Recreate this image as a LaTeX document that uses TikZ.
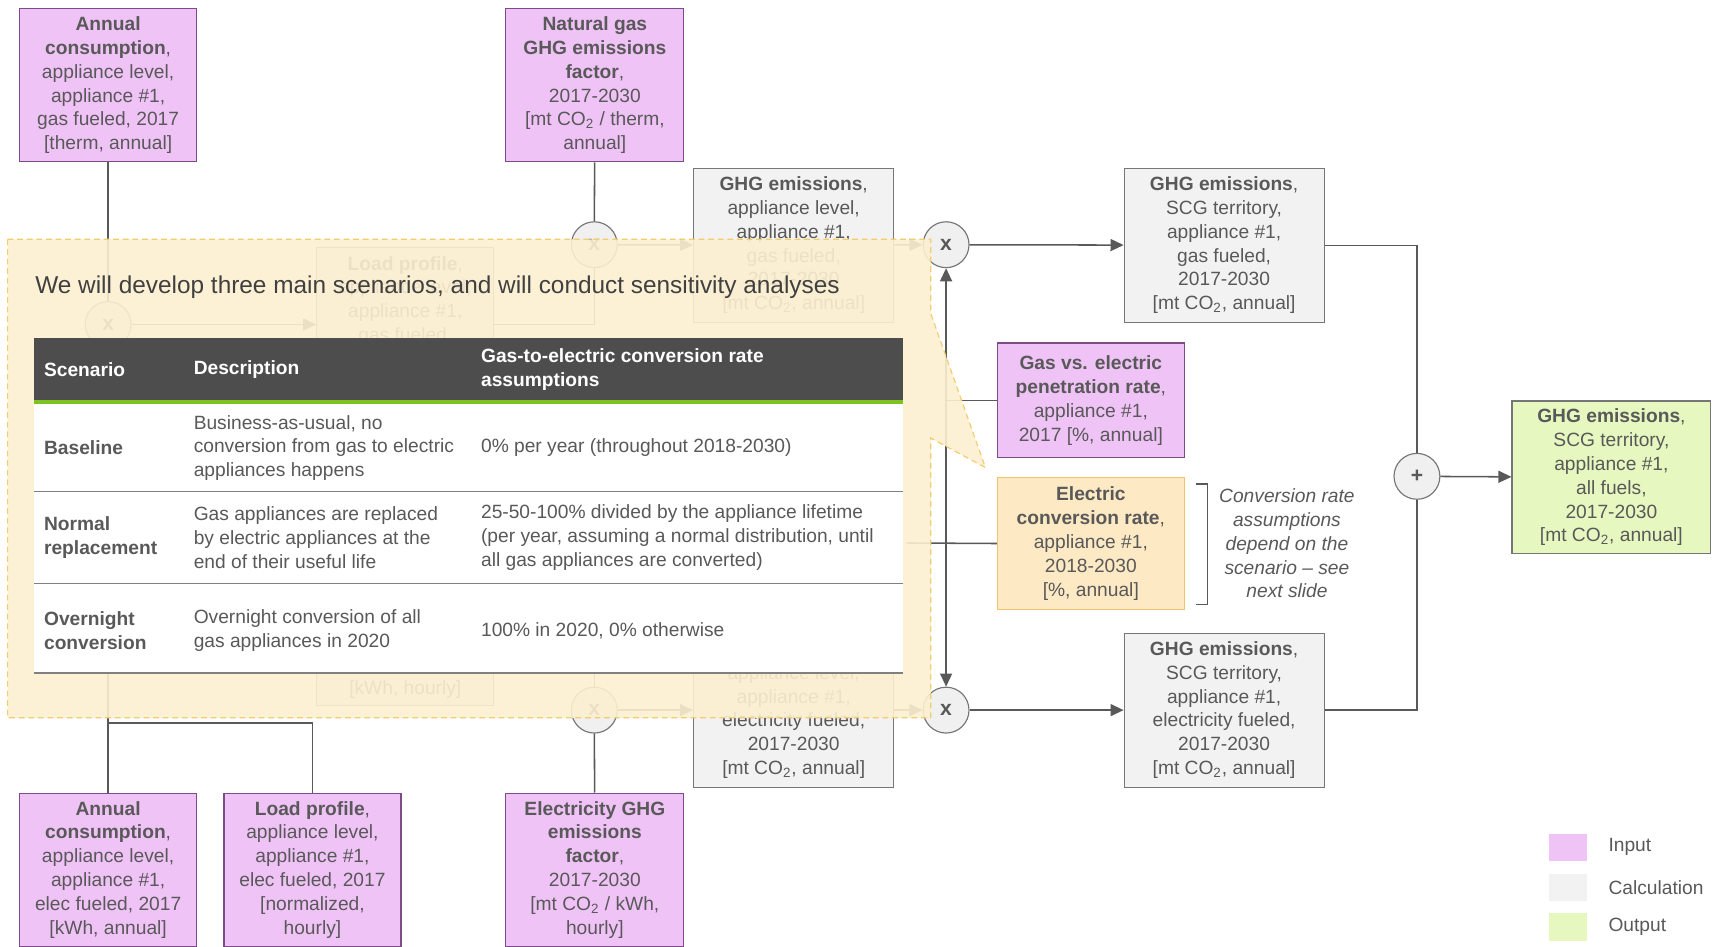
\documentclass[tikz,border=0pt]{standalone}
\usepackage{fontspec}
\setmainfont{Liberation Sans}
\usetikzlibrary{arrows.meta,calc,positioning}

\definecolor{textgray}{RGB}{89,89,89}
\definecolor{titlegray}{RGB}{64,64,64}
\definecolor{linegray}{RGB}{89,89,89}
\definecolor{inputfill}{RGB}{240,195,247}
\definecolor{inputdraw}{RGB}{125,75,135}
\definecolor{calcfill}{RGB}{242,242,242}
\definecolor{calcdraw}{RGB}{118,118,118}
\definecolor{outputfill}{RGB}{231,247,192}
\definecolor{convfill}{RGB}{253,234,196}
\definecolor{convdraw}{RGB}{243,196,110}
\definecolor{calloutfill}{RGB}{253,239,208}
\definecolor{calloutdraw}{RGB}{242,205,110}
\definecolor{headgray}{RGB}{77,77,77}
\definecolor{tablegreen}{RGB}{126,196,32}
\definecolor{rulegray}{RGB}{128,128,128}
\definecolor{circfill}{RGB}{240,240,240}

\newcommand{\cotwo}{CO\textsubscript{2}}

\begin{document}
\begin{tikzpicture}[x=0.02cm, y=-0.02cm,
  font=\fontsize{10}{12.4}\selectfont,
  box/.style={draw, line width=0.6pt, align=center, inner sep=0pt, text=textgray},
  inbox/.style={box, draw=inputdraw, fill=inputfill, minimum width=3.24cm, minimum height=2.8cm},
  calcbox/.style={box, draw=calcdraw, fill=calcfill, minimum width=3.66cm, minimum height=2.82cm},
  outbox/.style={box, draw=calcdraw, fill=outputfill, minimum width=3.64cm, minimum height=2.8cm},
  convbox/.style={box, draw=convdraw, fill=convfill, minimum width=3.42cm, minimum height=2.42cm},
  opcirc/.style={circle, draw=calcdraw, fill=circfill, line width=0.6pt, minimum size=0.84cm, inner sep=0pt,
    text=textgray, font=\bfseries\fontsize{11}{13}\selectfont},
  conn/.style={draw=linegray, line width=0.8pt},
  arr/.style={conn, -{Triangle[length=2.4mm, width=2.2mm]}},
  callout/.style={fill=calloutfill, fill opacity=0.9, draw=calloutdraw, line width=0.6pt, dash pattern=on 3pt off 2pt},
  cell/.style={anchor=west, align=left, inner sep=0pt, text=textgray},
  headcell/.style={cell, text=white, font=\bfseries\fontsize{10}{12.4}\selectfont}
]
  \useasboundingbox (0,0) rectangle (1568,866);

  % Gas branch (top)
  \node[inbox] (annGas) at (99,78) {\textbf{Annual}\\\textbf{consumption},\\appliance level,\\appliance \#1,\\gas fueled, 2017\\{[therm, annual]}};
  \node[inbox, minimum width=3.26cm] (ngFactor) at (544.5,78) {\textbf{Natural gas}\\\textbf{GHG emissions}\\\textbf{factor},\\2017-2030\\{[mt \cotwo{} / therm,}\\annual]};
  \node[opcirc] (mulLoadGas) at (99,297) {x};
  \node[calcbox, minimum width=3.24cm] (loadGas) at (371,297) {};
  \node[box, draw=none, anchor=north] (loadGasText) at ($(loadGas.north)+(0,8)$) {\textbf{Load profile},\\appliance level,\\appliance \#1,\\gas fueled,};
  \node[opcirc] (mulGas) at (544,224) {x};
  \node[calcbox] (ghgGasApp) at (726.5,224.5) {\textbf{GHG emissions},\\appliance level,\\appliance \#1,\\gas fueled,\\2017-2030\\{[mt \cotwo, annual]}};
  \node[opcirc] (mulGasTot) at (866,224) {x};
  \node[calcbox] (ghgGasScg) at (1120.5,224.5) {\textbf{GHG emissions},\\SCG territory,\\appliance \#1,\\gas fueled,\\2017-2030\\{[mt \cotwo, annual]}};

  % Rates
  \node[inbox, minimum width=3.42cm, minimum height=2.1cm] (penRate) at (998.5,366.5) {\textbf{Gas vs. electric}\\\textbf{penetration rate},\\appliance \#1,\\2017 [\%, annual]};
  \node[convbox] (convRate) at (998.5,497.5) {\textbf{Electric}\\\textbf{conversion rate},\\appliance \#1,\\2018-2030\\{[\%, annual]}};
  \draw[conn, line width=0.6pt] (1095,443) -- (1105,443) -- (1105,553) -- (1095,553);
  \node[text=textgray, align=center, font=\itshape\fontsize{10}{12.4}\selectfont] (convNote) at (1178,497.5) {Conversion rate\\assumptions\\depend on the\\scenario -- see\\next slide};

  % Electricity branch (bottom)
  \node[inbox] (annElec) at (99,796) {\textbf{Annual}\\\textbf{consumption},\\appliance level,\\appliance \#1,\\elec fueled, 2017\\{[kWh, annual]}};
  \node[inbox] (loadElec) at (286,796) {\textbf{Load profile},\\appliance level,\\appliance \#1,\\elec fueled, 2017\\{[normalized,}\\hourly]};
  \node[inbox, minimum width=3.26cm] (elecFactor) at (544.5,796) {\textbf{Electricity GHG}\\\textbf{emissions}\\\textbf{factor},\\2017-2030\\{[mt \cotwo{} / kWh,}\\hourly]};
  \node[calcbox, minimum width=3.24cm] (loadElecHr) at (371,575) {};
  \node[box, draw=none, anchor=south] (loadElecText) at ($(loadElecHr.south)+(0,-6)$) {{[kWh, hourly]}};
  \node[opcirc] (mulElec) at (544,650) {x};
  \node[calcbox] (ghgElecApp) at (726.5,650) {\textbf{GHG emissions},\\appliance level,\\appliance \#1,\\electricity fueled,\\2017-2030\\{[mt \cotwo, annual]}};
  \node[opcirc] (mulElecTot) at (866,650) {x};
  \node[calcbox] (ghgElecScg) at (1120.5,650) {\textbf{GHG emissions},\\SCG territory,\\appliance \#1,\\electricity fueled,\\2017-2030\\{[mt \cotwo, annual]}};

  % Sum and output
  \node[opcirc] (sumAll) at (1297,436) {+};
  \node[outbox] (ghgAll) at (1475,437) {\textbf{GHG emissions},\\SCG territory,\\appliance \#1,\\all fuels,\\2017-2030\\{[mt \cotwo, annual]}};

  % Connectors
  \coordinate (junc) at (866,497);
  \coordinate (convIn) at (830,497);
  \coordinate (elecJoin) at (99,662);
  \coordinate (elecUp) at (99,616);
  \draw[conn] (annGas) -- (mulLoadGas);
  \draw[arr] (mulLoadGas) -- (loadGas);
  \draw[conn] (loadGas.east) -| (mulGas.south);
  \draw[conn] (ngFactor) -- (mulGas);
  \draw[arr] (mulGas) -- (ghgGasApp);
  \draw[arr] (ghgGasApp) -- (mulGasTot);
  \draw[arr] (mulGasTot) -- (ghgGasScg);
  \draw[conn] (ghgGasScg.east) -| (sumAll.north);
  \draw[conn] (ghgElecScg.east) -| (sumAll.south);
  \draw[arr] (sumAll) -- (ghgAll);
  \draw[arr] (junc) -- (mulGasTot);
  \draw[arr] (junc) -- (mulElecTot);
  \draw[conn] (penRate.west) -- (penRate.west -| junc);
  \draw[conn] (convRate.west) -- (convIn);
  \draw[conn] (elecFactor) -- (mulElec);
  \draw[conn] (loadElecHr.east) -| (mulElec.north);
  \draw[arr] (mulElec) -- (ghgElecApp);
  \draw[arr] (ghgElecApp) -- (mulElecTot);
  \draw[arr] (mulElecTot) -- (ghgElecScg);
  \draw[conn] (annElec) -- (elecUp);
  \draw[conn] (loadElec.north) |- (elecJoin);

  % Callout with scenario table
  \path[callout] (7,219) -- (852,219) -- (852,287) -- (902,428) -- (852,401) -- (852,657) -- (7,657) -- cycle;
  \node[anchor=west, inner sep=0pt, text=titlegray, font=\fontsize{12.7}{15}\selectfont] (calloutTitle) at (32,263) {We will develop three main scenarios, and will conduct sensitivity analyses};
  \fill[white] (31,367) rectangle (827,616);
  \fill[headgray] (31,309) rectangle (827,367);
  \draw[tablegreen, line width=2pt] (31,368) -- (827,368);
  \foreach \yy in {450,534}
    \draw[rulegray, line width=0.8pt] (31,\yy) -- (827,\yy);
  \draw[rulegray, line width=1.2pt] (31,616) -- (827,616);

  \node[headcell] (hScen) at (40,338) {Scenario};
  \node[headcell] (hDesc) at (177,338) {Description};
  \node[headcell] (hRate) at (440,338) {Gas-to-electric conversion rate\\assumptions};

  \node[cell, font=\bfseries\fontsize{10}{12.4}\selectfont] (scenBase) at (40,410) {Baseline};
  \node[cell] (descBase) at (177,410) {Business-as-usual, no\\conversion from gas to electric\\appliances happens};
  \node[cell] (rateBase) at (440,410) {0\% per year (throughout 2018-2030)};

  \node[cell, font=\bfseries\fontsize{10}{12.4}\selectfont] (scenNorm) at (40,492) {Normal\\replacement};
  \node[cell] (descNorm) at (177,492) {Gas appliances are replaced\\by electric appliances at the\\end of their useful life};
  \node[cell] (rateNorm) at (440,492) {25-50-100\% divided by the appliance lifetime\\(per year, assuming a normal distribution, until\\all gas appliances are converted)};

  \node[cell, font=\bfseries\fontsize{10}{12.4}\selectfont] (scenOver) at (40,577) {Overnight\\conversion};
  \node[cell] (descOver) at (177,577) {Overnight conversion of all\\gas appliances in 2020};
  \node[cell] (rateOver) at (440,577) {100\% in 2020, 0\% otherwise};

  % Legend
  \foreach \yy/\col/\lab in {775.5/inputfill/Input, 812.5/calcfill/Calculation, 848.5/outputfill/Output} {
    \fill[\col] (1418,\yy-12.5) rectangle (1453,\yy+12.5);
    \node[anchor=west, inner sep=0pt, text=textgray] (leg-\lab) at (1472,\yy) {\lab};
  }
\end{tikzpicture}
\end{document}
